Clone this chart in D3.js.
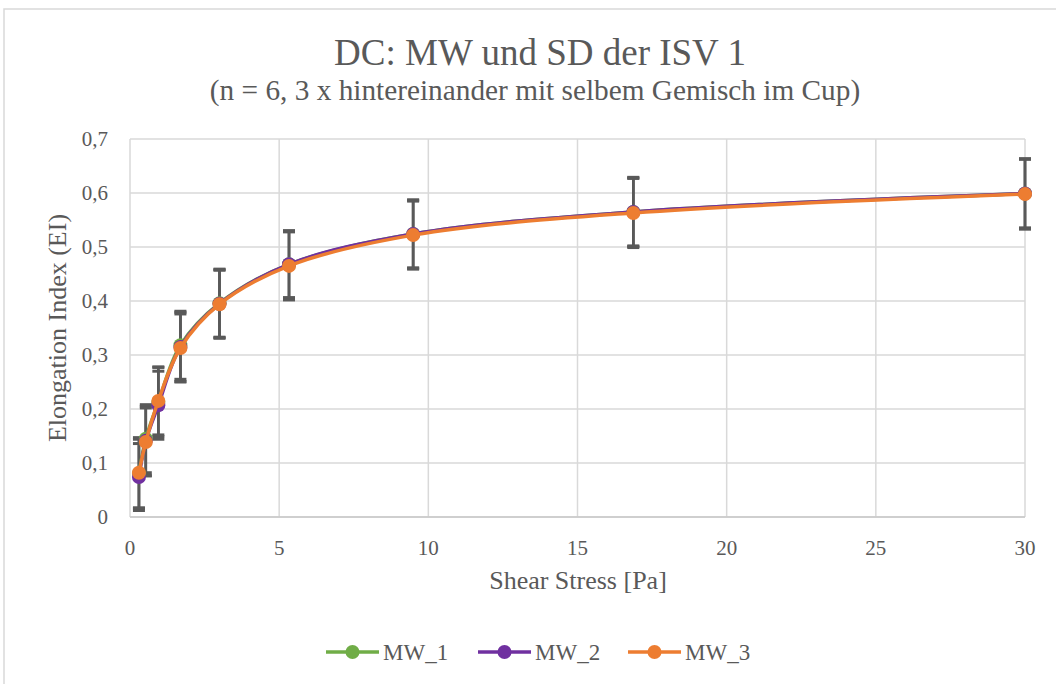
<!DOCTYPE html>
<html>
<head>
<meta charset="utf-8">
<script src="https://cdn.jsdelivr.net/npm/d3@7"></script>
<style>
  html, body { margin: 0; padding: 0; background: #fff; }
  svg { display: block; }
  svg text { font-family: "Liberation Serif", "Times New Roman", serif; }
</style>
</head>
<body>
<div id="chart"></div>
<script>
/* DC: MW und SD der ISV 1 — elongation index vs shear stress, three repeat runs */

const SHEAR = [0.3, 0.53, 0.95, 1.69, 3, 5.33, 9.49, 16.87, 30];
const MW_1 = [0.080, 0.145, 0.213, 0.318, 0.396, 0.468, 0.524, 0.565, 0.599];
const MW_2 = [0.074, 0.141, 0.207, 0.315, 0.395, 0.468, 0.524, 0.565, 0.599];
const MW_3 = [0.082, 0.139, 0.215, 0.313, 0.394, 0.465, 0.522, 0.563, 0.598];
const SD_1 = [0.064, 0.063, 0.064, 0.063, 0.063, 0.062, 0.063, 0.064, 0.064];
const SD_2 = [0.062, 0.064, 0.063, 0.064, 0.063, 0.062, 0.063, 0.063, 0.064];
const SD_3 = [0.065, 0.063, 0.063, 0.063, 0.063, 0.063, 0.063, 0.064, 0.065];
const SERIES = ['MW_1', 'MW_2', 'MW_3'];
const X_TICKS = [0, 5, 10, 15, 20, 25, 30];
const Y_TICKS = [0, 0.1, 0.2, 0.3, 0.4, 0.5, 0.6, 0.7];

const COLORS = ['#70ad47', '#7030a0', '#ed7d31'];
const INK = '#595959';
const GRID = '#d9d9d9';
const SERIF = '"Liberation Serif", "Times New Roman", serif';

const W = 1056, H = 684;
const M = { top: 139, right: 31, bottom: 167, left: 130 };

const series = SERIES.map((name, i) => ({
  name,
  color: COLORS[i],
  pts: SHEAR.map((s, j) => ({ x: s, y: [MW_1, MW_2, MW_3][i][j], sd: [SD_1, SD_2, SD_3][i][j] }))
}));

const svg = d3.select('#chart').append('svg')
  .attr('width', W).attr('height', H)
  .attr('viewBox', `0 0 ${W} ${H}`)
  .attr('font-family', SERIF);

/* outer chart frame, cut by the screenshot on right and bottom */
svg.append('rect')
  .attr('x', 4).attr('y', 9).attr('width', W + 20).attr('height', H + 20)
  .attr('fill', '#fff').attr('stroke', GRID).attr('stroke-width', 1.5);

const x = d3.scaleLinear().domain([0, 30]).range([M.left, W - M.right]);
const y = d3.scaleLinear().domain([0, 0.7]).range([H - M.bottom, M.top]);

/* gridlines */
svg.append('g').selectAll('line').data(Y_TICKS).join('line')
  .attr('x1', M.left).attr('x2', W - M.right)
  .attr('y1', (d) => y(d)).attr('y2', (d) => y(d))
  .attr('stroke', GRID).attr('stroke-width', 1.5);
svg.append('g').selectAll('line').data(X_TICKS).join('line')
  .attr('x1', (d) => x(d)).attr('x2', (d) => x(d))
  .attr('y1', M.top).attr('y2', H - M.bottom)
  .attr('stroke', GRID).attr('stroke-width', 1.5);
svg.append('line')
  .attr('x1', M.left).attr('x2', W - M.right)
  .attr('y1', y(0)).attr('y2', y(0))
  .attr('stroke', '#c8c8c8').attr('stroke-width', 1.5);

/* tick labels */
const fmt = d3.formatLocale({ decimal: ',', thousands: '.', grouping: [3], currency: ['', ''] });
const yFmt = (d) => (d === 0 ? '0' : fmt.format('.1f')(d));
svg.append('g').selectAll('text').data(Y_TICKS).join('text')
  .attr('x', M.left - 22).attr('y', (d) => y(d) + 7)
  .attr('text-anchor', 'end').attr('fill', INK).attr('font-size', 21)
  .text(yFmt);
svg.append('g').selectAll('text').data(X_TICKS).join('text')
  .attr('x', (d) => x(d)).attr('y', y(0) + 38)
  .attr('text-anchor', 'middle').attr('fill', INK).attr('font-size', 21)
  .text((d) => d);

/* titles */
svg.append('text').attr('x', 540).attr('y', 65)
  .attr('text-anchor', 'middle').attr('fill', INK).attr('font-size', 37)
  .text('DC: MW und SD der ISV 1');
svg.append('text').attr('x', 535).attr('y', 100)
  .attr('text-anchor', 'middle').attr('fill', INK).attr('font-size', 29.3)
  .text('(n = 6, 3 x hintereinander mit selbem Gemisch im Cup)');
svg.append('text').attr('x', 578).attr('y', 589)
  .attr('text-anchor', 'middle').attr('fill', INK).attr('font-size', 26)
  .text('Shear Stress [Pa]');
svg.append('text')
  .attr('transform', 'translate(66,328) rotate(-90)')
  .attr('text-anchor', 'middle').attr('fill', INK).attr('font-size', 26)
  .text('Elongation Index (EI)');

/* error bars (drawn under the lines) */
const eb = svg.append('g').attr('stroke', INK).attr('stroke-width', 2.5);
series.forEach((s) => {
  const g = eb.append('g');
  g.selectAll('line.v').data(s.pts).join('line').attr('class', 'v')
    .attr('x1', (d) => x(d.x)).attr('x2', (d) => x(d.x))
    .attr('y1', (d) => y(d.y + d.sd)).attr('y2', (d) => y(d.y - d.sd));
  g.selectAll('line.t').data(s.pts).join('line').attr('class', 't')
    .attr('x1', (d) => x(d.x) - 6).attr('x2', (d) => x(d.x) + 6)
    .attr('y1', (d) => y(d.y + d.sd)).attr('y2', (d) => y(d.y + d.sd))
    .attr('stroke-width', 3);
  g.selectAll('line.b').data(s.pts).join('line').attr('class', 'b')
    .attr('x1', (d) => x(d.x) - 6).attr('x2', (d) => x(d.x) + 6)
    .attr('y1', (d) => y(d.y - d.sd)).attr('y2', (d) => y(d.y - d.sd))
    .attr('stroke-width', 3);
});

/* smoothed lines + markers */
const line = d3.line().x((d) => x(d.x)).y((d) => y(d.y)).curve(d3.curveCatmullRom.alpha(0.5));
series.forEach((s) => {
  svg.append('path').datum(s.pts)
    .attr('d', line).attr('fill', 'none')
    .attr('stroke', s.color).attr('stroke-width', 3.5)
    .attr('stroke-linejoin', 'round');
  svg.append('g').selectAll('circle').data(s.pts).join('circle')
    .attr('cx', (d) => x(d.x)).attr('cy', (d) => y(d.y)).attr('r', 7)
    .attr('fill', s.color);
});

/* legend */
const LEG_X = [326, 478, 628];
const leg = svg.append('g');
series.forEach((s, i) => {
  const g = leg.append('g').attr('transform', `translate(${LEG_X[i]},652)`);
  g.append('line').attr('x1', 0).attr('x2', 53).attr('y1', 0).attr('y2', 0)
    .attr('stroke', s.color).attr('stroke-width', 3.5);
  g.append('circle').attr('cx', 26.5).attr('cy', 0).attr('r', 7).attr('fill', s.color);
  g.append('text').attr('x', 57).attr('y', 8).attr('fill', INK).attr('font-size', 23)
    .text(s.name);
});
</script>
</body>
</html>
